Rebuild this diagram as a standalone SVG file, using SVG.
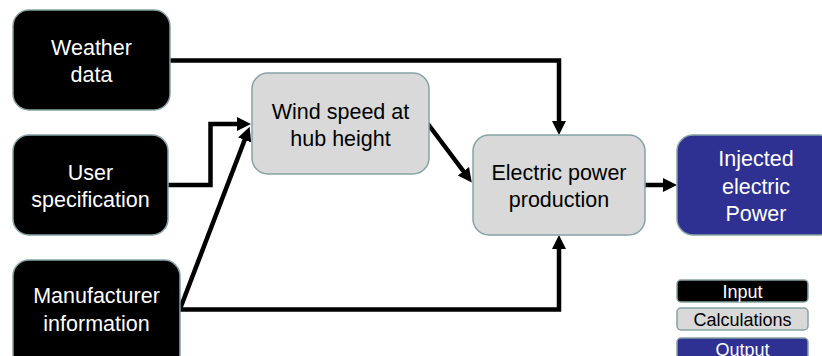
<svg xmlns="http://www.w3.org/2000/svg" width="822" height="356" viewBox="0 0 822 356">
<style>
.box{stroke:#86a2a4;stroke-width:1.5}
.in{fill:#000}
.calc{fill:#d9d9d9}
.out{fill:#2e3192}
text{font-family:"Liberation Sans",Arial,sans-serif;font-size:21.5px;text-anchor:middle}
.w{fill:#fff}
.k{fill:#000}
.lg{font-size:18px}
.c{fill:none;stroke:#000;stroke-width:4.5}
</style>
<defs>
<marker id="ah" markerUnits="userSpaceOnUse" markerWidth="16" markerHeight="16" viewBox="0 -8 16 16" refX="1" refY="0" orient="auto">
<path d="M0,-7 L14,0 L0,7 z" fill="#000"/>
</marker>
</defs>
<rect width="822" height="356" fill="#fff"/>
<g id="connectors">
<path class="c" d="M170,60.5 H559 V122" marker-end="url(#ah)"/>
<path class="c" d="M168,185 H210.5 V124 H238" marker-end="url(#ah)"/>
<path class="c" d="M180,309 L245,139" marker-end="url(#ah)"/>
<path class="c" d="M180,309.5 H559 V248" marker-end="url(#ah)"/>
<path class="c" d="M428,124 L464,172" marker-end="url(#ah)"/>
<path class="c" d="M645,185 H664" marker-end="url(#ah)"/>
</g>
<g id="weather">
<rect class="box in" x="13" y="10" width="157" height="100" rx="16"/>
<text class="w" x="91.5" y="55">Weather</text>
<text class="w" x="91.5" y="82">data</text>
</g>
<g id="user">
<rect class="box in" x="13" y="135" width="155" height="100" rx="16"/>
<text class="w" x="90.5" y="180">User</text>
<text class="w" x="90.5" y="207">specification</text>
</g>
<g id="manufacturer">
<rect class="box in" x="13" y="260" width="167" height="110" rx="16"/>
<text class="w" x="96.5" y="303">Manufacturer</text>
<text class="w" x="96.5" y="331">information</text>
</g>
<g id="windspeed">
<rect class="box calc" x="252" y="73" width="177" height="101" rx="16"/>
<text class="k" x="340.5" y="119">Wind speed at</text>
<text class="k" x="340.5" y="146">hub height</text>
</g>
<g id="production">
<rect class="box calc" x="473" y="135" width="172" height="100" rx="16"/>
<text class="k" x="559" y="180">Electric power</text>
<text class="k" x="559" y="207">production</text>
</g>
<g id="injected">
<rect class="box out" x="677" y="135" width="158" height="100" rx="16"/>
<text class="w" x="756" y="166">Injected</text>
<text class="w" x="756" y="194">electric</text>
<text class="w" x="756" y="221">Power</text>
</g>
<g id="legend-input">
<rect class="box in" x="677" y="280" width="131" height="22" rx="4"/>
<text class="w lg" x="742.5" y="297.5">Input</text>
</g>
<g id="legend-calculations">
<rect class="box calc" x="677" y="308" width="131" height="22" rx="4"/>
<text class="k lg" x="742.5" y="325.5">Calculations</text>
</g>
<g id="legend-output">
<rect class="box out" x="677" y="338" width="131" height="22" rx="4"/>
<text class="w lg" x="742.5" y="355.5">Output</text>
</g>
</svg>
